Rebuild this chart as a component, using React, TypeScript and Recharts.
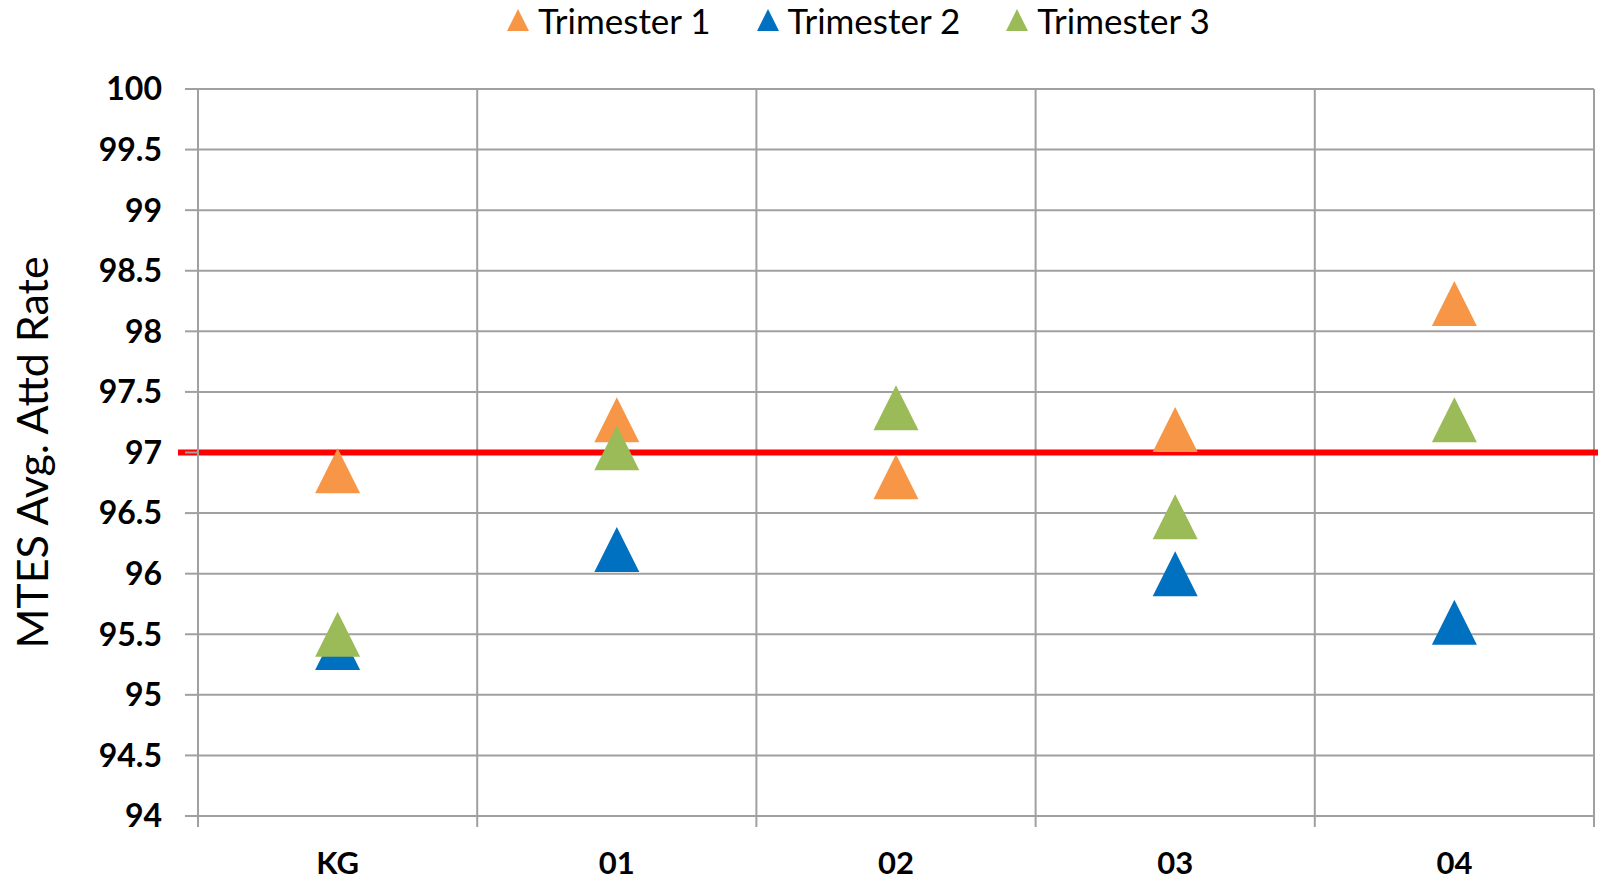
import { ScatterChart, Scatter, XAxis, YAxis, CartesianGrid, ReferenceLine, Legend } from "recharts";

const grades = ["KG", "01", "02", "03", "04"];
const trimester1 = [96.85, 97.27, 96.8, 97.19, 98.23];
const trimester2 = [95.39, 96.2, null, 96.0, 95.6];
const trimester3 = [95.5, 97.04, 97.37, 96.47, 97.27];
const yTicks = [94, 94.5, 95, 95.5, 96, 96.5, 97, 97.5, 98, 98.5, 99, 99.5, 100];
const targetRate = 97;

const GRID = "#a0a0a0";
const FONT = "Lato, 'Open Sans', sans-serif";

const series = [
  { name: "Trimester 1", values: trimester1, color: "#F79646" },
  { name: "Trimester 2", values: trimester2, color: "#0070C0" },
  { name: "Trimester 3", values: trimester3, color: "#9BBB59" },
];

// category i sits in the middle of the band [i, i+1]
const toPoints = (values: (number | null)[]) =>
  values
    .map((v, i) => (v == null ? null : { x: i + 0.5, y: v }))
    .filter((p) => p !== null);

const boundaries = grades.map((_, i) => i).concat(grades.length);
const xTicks = grades.flatMap((_, i) => [i, i + 0.5]).concat(grades.length);

function Triangle(props: any) {
  const { cx, cy, fill } = props;
  const h = 22.5;
  return <polygon points={`${cx},${cy - h} ${cx - h},${cy + h} ${cx + h},${cy + h}`} fill={fill} />;
}

function XTick(props: any) {
  const { x, y, payload } = props;
  const v = payload.value;
  if (Number.isInteger(v)) {
    return <line x1={x} x2={x} y1={y} y2={y + 11} stroke={GRID} strokeWidth={2} />;
  }
  return (
    <text x={x} y={y + 36} dy="0.71em" textAnchor="middle" fontSize={31} fontWeight="bold" fontFamily={FONT} fill="#000">
      {grades[Math.floor(v)]}
    </text>
  );
}

function LegendContent() {
  return (
    <div style={{ height: 89, display: "flex", alignItems: "flex-start", paddingLeft: 507, fontFamily: FONT }}>
      {series.map((s) => (
        <div key={s.name} style={{ display: "flex", alignItems: "center", height: 40, marginRight: 46 }}>
          <svg width={22} height={22} style={{ marginRight: 9 }}>
            <polygon points="11,0 0,22 22,22" fill={s.color} />
          </svg>
          <span style={{ fontSize: 35, color: "#000" }}>{s.name}</span>
        </div>
      ))}
    </div>
  );
}

function YTitle(props: any) {
  const { viewBox } = props;
  const x = viewBox.x + 31;
  const y = viewBox.y + viewBox.height / 2;
  return (
    <text x={x} y={y} transform={`rotate(-90, ${x}, ${y})`} textAnchor="middle" dominantBaseline="central" fontSize={43} fontFamily={FONT} fill="#000">
      MTES Avg. Attd Rate
    </text>
  );
}

export default function App() {
  return (
    <div style={{ position: "absolute", left: 0, top: 0, fontFamily: FONT, background: "#fff" }}>
      <ScatterChart width={1598} height={883} margin={{ top: 0, right: 4, bottom: 0, left: 0 }}>
        <Legend verticalAlign="top" wrapperStyle={{ left: 0, width: 1598 }} content={() => <LegendContent />} />
        <CartesianGrid vertical={false} stroke={GRID} strokeWidth={2} />
        <XAxis
          type="number"
          dataKey="x"
          domain={[0, grades.length]}
          ticks={xTicks}
          interval={0}
          tickSize={0}
          tickMargin={0}
          tickLine={false}
          axisLine={{ stroke: GRID, strokeWidth: 2 }}
          tick={<XTick />}
          height={67}
        />
        <YAxis
          type="number"
          dataKey="y"
          domain={[94, 100]}
          ticks={yTicks}
          interval={0}
          width={198}
          tickSize={13}
          tickMargin={23}
          tickLine={{ stroke: GRID, strokeWidth: 2 }}
          axisLine={{ stroke: GRID, strokeWidth: 2 }}
          tick={{ fill: "#000", fontSize: 32, fontWeight: "bold", fontFamily: FONT }}
          label={<YTitle />}
        />
        {boundaries.map((b) => (
          <ReferenceLine key={b} x={b} stroke={GRID} strokeWidth={2} />
        ))}
        <ReferenceLine
          y={targetRate}
          stroke="#FF0000"
          strokeWidth={6}
          shape={(p: any) => <line x1={p.x1 - 20} y1={p.y1} x2={p.x2 + 4} y2={p.y2} stroke="#FF0000" strokeWidth={6} />}
        />
        {series.map((s) => (
          <Scatter
            key={s.name}
            name={s.name}
            data={toPoints(s.values)}
            fill={s.color}
            shape={<Triangle />}
            isAnimationActive={false}
          />
        ))}
      </ScatterChart>
    </div>
  );
}
